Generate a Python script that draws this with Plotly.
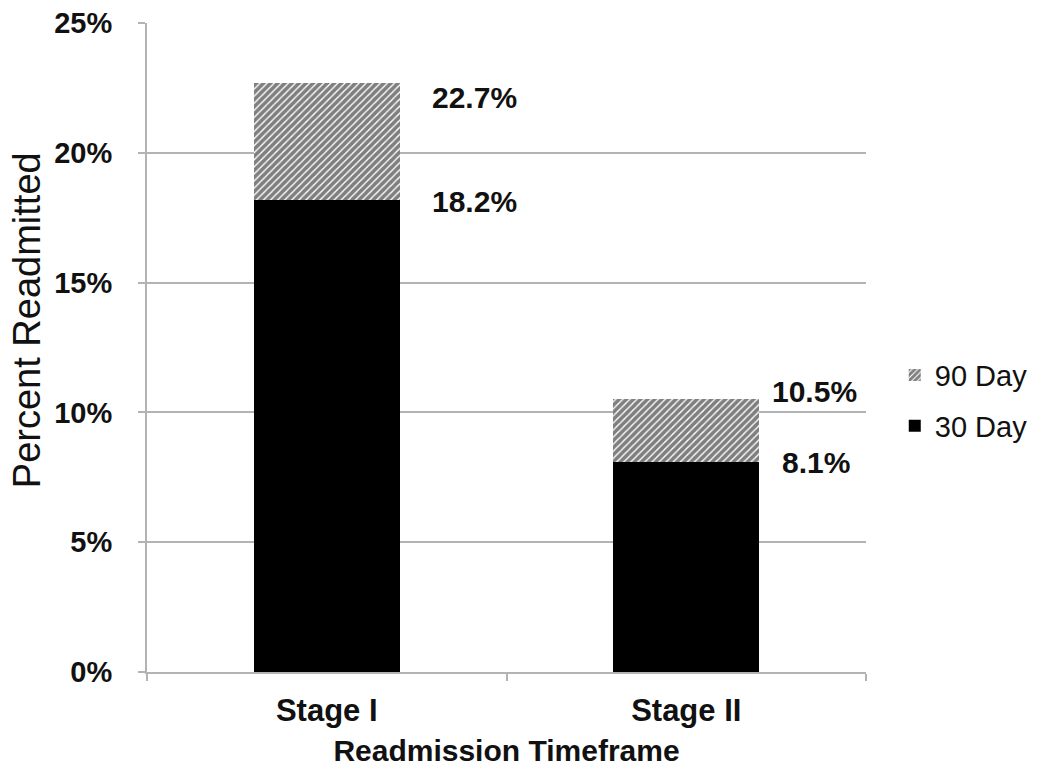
import plotly.graph_objects as go

# Readmission rates by stage (percent)
stages = ["Stage I", "Stage II"]
day30 = [18.2, 8.1]
day90_total = [22.7, 10.5]
day90_extra = [round(t - b, 1) for t, b in zip(day90_total, day30)]
y_ticks = [0, 5, 10, 15, 20, 25]
y_tick_labels = ["0%", "5%", "10%", "15%", "20%", "25%"]

FONT = "Liberation Sans, Arial, sans-serif"
GRID = "#b3b3b3"
INK = "#111111"

fig = go.Figure()
fig.add_trace(go.Bar(
    x=stages, y=day30, name="30 Day",
    marker=dict(color="black", line=dict(width=0)),
    legendgroup="a", legendrank=2,
))
fig.add_trace(go.Bar(
    x=stages, y=day90_extra, name="90 Day",
    marker=dict(
        color="white",
        line=dict(width=0),
        pattern=dict(shape="/", fgcolor="black", bgcolor="white",
                     size=5, solidity=0.72, fillmode="overlay"),
    ),
    legendgroup="b", legendrank=1,
))

# value labels to the right of each bar
top_shift = [(103, -15), (84, 8)]
low_shift = [(103, -2), (94, -1)]
for i, s in enumerate(stages):
    fig.add_annotation(x=s, y=day90_total[i], text=f"{day90_total[i]}%",
                       xanchor="left", yanchor="middle", showarrow=False,
                       xshift=top_shift[i][0], yshift=top_shift[i][1],
                       font=dict(family=FONT, size=30, color=INK, weight="bold"))
    fig.add_annotation(x=s, y=day30[i], text=f"{day30[i]}%",
                       xanchor="left", yanchor="middle", showarrow=False,
                       xshift=low_shift[i][0], yshift=low_shift[i][1],
                       font=dict(family=FONT, size=30, color=INK, weight="bold"))

# vertical axis title
fig.add_annotation(xref="paper", yref="paper", x=-0.167, y=0.542,
                   text="Percent Readmitted", textangle=-90, showarrow=False,
                   xanchor="center", yanchor="middle",
                   font=dict(family=FONT, size=38, color=INK))

fig.update_layout(
    width=1047, height=776,
    margin=dict(l=147, r=181, t=23, b=104, autoexpand=False),
    barmode="stack", bargap=0.594,
    plot_bgcolor="white", paper_bgcolor="white",
    font=dict(family=FONT, color=INK),
    showlegend=True,
    legend=dict(
        x=1.04, y=0.418, xanchor="left", yanchor="middle",
        traceorder="grouped", tracegroupgap=10,
        font=dict(family=FONT, size=29, color=INK),
        itemwidth=30, bgcolor="rgba(0,0,0,0)",
    ),
    xaxis=dict(
        type="category", tickson="boundaries", automargin=False,
        showline=True, linecolor=GRID, linewidth=2,
        ticks="outside", ticklen=7, tickcolor=GRID, tickwidth=2,
        showgrid=False, ticklabelstandoff=10,
        tickfont=dict(family=FONT, size=31, color=INK, weight="bold"),
        title=dict(text="Readmission Timeframe", standoff=13,
                   font=dict(family=FONT, size=30, color=INK, weight="bold")),
    ),
    yaxis=dict(
        range=[0, 25], tickvals=y_ticks, ticktext=y_tick_labels, automargin=False,
        showline=True, linecolor=GRID, linewidth=2,
        ticks="outside", ticklen=7, tickcolor=GRID, tickwidth=2,
        showgrid=True, gridcolor=GRID, gridwidth=1.5, zeroline=False,
        ticklabelstandoff=20,
        tickfont=dict(family=FONT, size=29, color=INK, weight="bold"),
    ),
)

fig.write_html("out.html")
